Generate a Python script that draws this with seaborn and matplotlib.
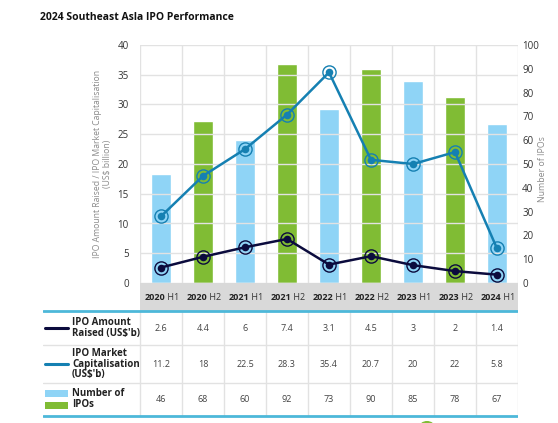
import numpy as np
import pandas as pd
import seaborn as sns
import matplotlib.pyplot as plt
from matplotlib.patches import Rectangle, Circle

# data
years = ["2020", "2020", "2021", "2021", "2022", "2022", "2023", "2023", "2024"]
halves = ["H1", "H2", "H1", "H2", "H1", "H2", "H1", "H2", "H1"]
amount_raised = [2.6, 4.4, 6, 7.4, 3.1, 4.5, 3, 2, 1.4]
market_cap = [11.2, 18, 22.5, 28.3, 35.4, 20.7, 20, 22, 5.8]
num_ipos = [46, 68, 60, 92, 73, 90, 85, 78, 67]
row_labels = ["IPO Amount\nRaised (US$'b)", "IPO Market\nCapitalisation\n(US$'b)", "Number of\nIPOs"]

periods = [f"{y} {h}" for y, h in zip(years, halves)]
df = pd.DataFrame({"period": periods, "pos": np.arange(len(periods)),
                   "amount": amount_raised, "mcap": market_cap, "ipos": num_ipos})

LIGHT_BLUE = "#8fd4f6"
GREEN = "#80bc34"
NAVY = "#0b0b3d"
BLUE = "#1580b2"
GRID = "#e2e2e2"
bar_colors = [LIGHT_BLUE if h == "H1" else GREEN for h in halves]

sns.set_theme(style="white")
plt.rcParams["font.family"] = ["Open Sans", "DejaVu Sans"]

W, H = 558, 423
fig = plt.figure(figsize=(W / 100, H / 100), dpi=100)


def px(x0, y0, w, h):
    return [x0 / W, 1 - (y0 + h) / H, w / W, h / H]


fig.text(40 / W, 1 - 17 / H, "2024 Southeast Asla IPO Performance",
         fontsize=7.5, fontweight="bold", color="#111111", va="center", ha="left")

# bars (number of IPOs, right axis)
ax = fig.add_axes(px(140, 45, 378, 238))
sns.barplot(data=df, x="pos", y="ipos", hue="period", palette=bar_colors,
            legend=False, width=0.47, ax=ax, saturation=1, native_scale=True)
ax.set_xlim(-0.5, len(periods) - 0.5)
ax.set_ylim(0, 100)
ax.set_yticks(range(0, 101, 10))
ax.set_xlabel("")
ax.set_xticks([])
ax.set_xticks(np.arange(-0.5, len(periods), 1), minor=True)
ax.grid(which="minor", axis="x", color=GRID, lw=1)
ax.tick_params(axis="x", which="both", length=0)
for s in ax.spines.values():
    s.set_visible(False)

# lines (left axis)
ax2 = ax.twinx()
ax.yaxis.tick_right()
ax.set_ylabel("Number of IPOs", fontsize=6.3, color="#8a8a8a", rotation=90)
ax.yaxis.set_label_coords((547 - 140) / 378, 0.48)
ax.tick_params(axis="y", length=0, labelsize=7, labelcolor="#333333", pad=3)
ax2.yaxis.tick_left()
ax2.set_ylim(0, 40)
ax2.set_yticks(range(0, 41, 5))
ax2.grid(axis="y", color=GRID, lw=1)
ax2.set_axisbelow(True)
for col, c in [("mcap", BLUE), ("amount", NAVY)]:
    sns.lineplot(data=df, x="pos", y=col, ax=ax2, color=c, lw=1.8, marker="o",
                 markersize=9.5, markerfacecolor="none", markeredgecolor=c,
                 markeredgewidth=1, zorder=3)
    sns.scatterplot(data=df, x="pos", y=col, ax=ax2, color=c, s=30,
                    edgecolor=c, linewidth=0, zorder=4)
ax2.set_xlim(-0.5, len(periods) - 0.5)
ax2.set_xlabel("")
ax2.set_ylabel("IPO Amount Raised / IPO Market Capitalisation\n(US$ billion)",
               fontsize=6.2, color="#8a8a8a")
ax2.yaxis.set_label_coords((93 - 140) / 378, 0.5)
ax2.tick_params(axis="y", length=0, labelsize=7, labelcolor="#333333", pad=8)
for s in ax2.spines.values():
    s.set_visible(False)

# table below
tax = fig.add_axes(px(43, 283, 475, 140))
x_left = -0.5 - 97 / 42
tax.set_xlim(x_left, len(periods) - 0.5)
tax.set_ylim(423, 283)
tax.axis("off")
tax.add_patch(Rectangle((-0.5, 283), len(periods), 28, color="#d9d9d9", lw=0))
for i, (y, h) in enumerate(zip(years, halves)):
    tax.text(i + 0.1, 297.5, y, ha="right", va="center", fontsize=6.5,
             fontweight="bold", color="#222222")
    tax.text(i + 0.1, 297.5, " " + h, ha="left", va="center", fontsize=6.5,
             color="#333333")

for yy in (345, 383):
    tax.plot([x_left, len(periods) - 0.5], [yy, yy], color=GRID, lw=1)
for xx in np.arange(-0.5, len(periods), 1):
    tax.plot([xx, xx], [311, 416], color=GRID, lw=1)
for yy in (311, 416):
    tax.plot([x_left, len(periods) - 0.5], [yy, yy], color="#4db8d9", lw=2)

row_y = [328, 364, 399]
for vals, yy in zip([amount_raised, market_cap, num_ipos], row_y):
    for i, v in enumerate(vals):
        tax.text(i, yy, f"{v:g}", ha="center", va="center", fontsize=6.5,
                 color="#444444")

lab_x = x_left + 29 / 42
sw0, sw1 = x_left + 2 / 42, x_left + 25 / 42
tax.plot([sw0, sw1], [row_y[0], row_y[0]], color=NAVY, lw=2.2)
tax.plot([sw0, sw1], [row_y[1], row_y[1]], color=BLUE, lw=2.2)
tax.add_patch(Rectangle((sw0, 390), sw1 - sw0, 7, color=LIGHT_BLUE, lw=0))
tax.add_patch(Rectangle((sw0, 402), sw1 - sw0, 7, color=GREEN, lw=0))
for lab, yy in zip(row_labels, row_y):
    tax.text(lab_x, yy, lab, ha="left", va="center", fontsize=7,
             fontweight="bold", color="#222222", linespacing=0.95)

# decorative green dot at bottom edge
fig.patches.append(Circle((427 / W, 1 - 427 / H), 7 / W, color=GREEN,
                          transform=fig.transFigure, figure=fig))

fig.savefig("out.png", dpi=100)
